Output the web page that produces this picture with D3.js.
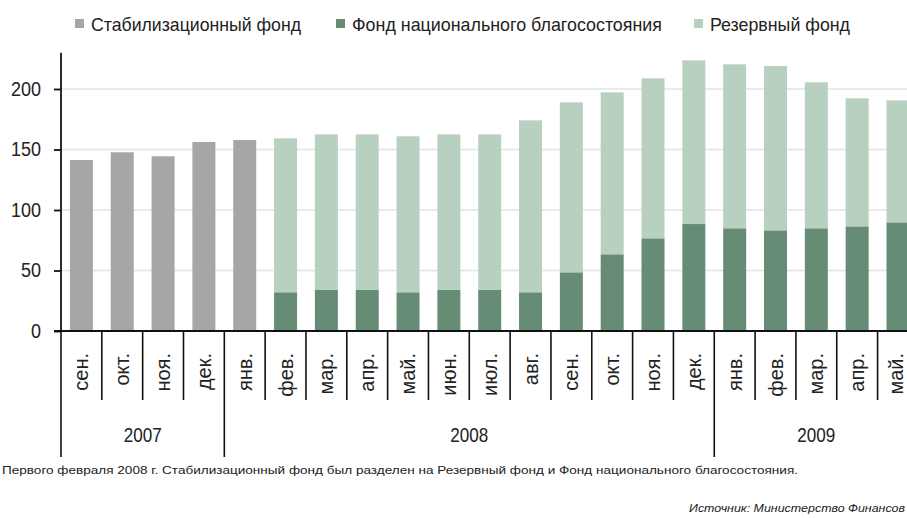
<!DOCTYPE html>
<html>
<head>
<meta charset="utf-8">
<script src="https://cdn.jsdelivr.net/npm/d3@7/dist/d3.min.js"></script>
<style>
  html, body { margin: 0; padding: 0; background: #fff; }
  svg { display: block; }
  text { font-family: "Liberation Sans", Arial, sans-serif; fill: #222; }
</style>
</head>
<body>
<svg id="chart" width="907" height="518"></svg>
<script>
// ---- data ----
const months = ["сен.","окт.","ноя.","дек.",
  "янв.","фев.","мар.","апр.","май.","июн.","июл.","авг.","сен.","окт.","ноя.","дек.",
  "янв.","фев.","мар.","апр.","май."];
const years = ["2007", "2008", "2009"];
const yearCounts = [4, 12, 5];
const stabFund = [141.3, 147.7, 144.4, 156.2, 157.9, 0, 0, 0, 0, 0, 0, 0, 0, 0, 0, 0, 0, 0, 0, 0, 0];
const nwFund   = [0, 0, 0, 0, 0, 32.0, 33.9, 33.9, 32.0, 33.9, 33.9, 32.0, 48.5, 63.4, 76.6, 88.4, 84.9, 83.2, 84.9, 86.5, 89.8];
const resFund  = [0, 0, 0, 0, 0, 127.2, 128.6, 128.6, 128.9, 128.6, 128.6, 142.1, 140.5, 133.8, 132.2, 135.3, 135.5, 135.8, 120.6, 105.8, 100.8];
const yTicks = [0, 50, 100, 150, 200];
const seriesNames = ["Стабилизационный фонд", "Фонд национального благосостояния", "Резервный фонд"];
const footnote = "Первого февраля 2008 г. Стабилизационный фонд был разделен на Резервный фонд и Фонд национального благосостояния.";
const source = "Источник: Министерство Финансов";

// ---- style ----
const colors = ["#a6a6a6", "#668c76", "#b8d0bf"];
const svg = d3.select("#chart");
const plotL = 61, plotR = 918.4, plotB = 331, plotT = 52.7;

const idx = months.map((d, i) => i);
const pad = 0.437;
const x = d3.scaleBand().domain(idx).range([plotL, plotR]).paddingInner(pad).paddingOuter(pad / 2);
const step = x.step();
const y = d3.scaleLinear().domain([0, 230]).range([plotB, plotT]);

// gridlines
svg.append("g").selectAll("line").data(yTicks.filter(d => d > 0)).join("line")
  .attr("x1", plotL).attr("x2", 907)
  .attr("y1", d => y(d)).attr("y2", d => y(d))
  .attr("stroke", "#e3e3e3").attr("stroke-width", 1.5);

// stacked bars
const rows = idx.map(i => ({ i, s: stabFund[i], n: nwFund[i], r: resFund[i] }));
const stack = d3.stack().keys(["s", "n", "r"])(rows);
svg.append("g").selectAll("g").data(stack).join("g")
  .attr("fill", (d, k) => colors[k])
  .selectAll("rect").data(d => d.filter(p => p[1] > p[0])).join("rect")
  .attr("x", d => x(d.data.i))
  .attr("width", x.bandwidth())
  .attr("y", d => y(d[1]))
  .attr("height", d => y(d[0]) - y(d[1]));

// y axis
const yAxis = d3.axisLeft(y).tickValues(yTicks).tickSize(7).tickPadding(13).tickSizeOuter(0);
const gy = svg.append("g").attr("transform", `translate(${plotL},0)`).call(yAxis);
gy.select(".domain").attr("stroke", "#111").attr("stroke-width", 1.8).attr("d", `M0,${plotT}V${plotB}`);
gy.selectAll(".tick line").attr("stroke", "#111").attr("stroke-width", 1.8);
gy.selectAll(".tick text").attr("font-size", 20).attr("fill", "#222")
  .style("font-family", '"Liberation Sans", Arial, sans-serif')
  .attr("textLength", d => String(d).length * 10).attr("lengthAdjust", "spacingAndGlyphs");

// x baseline
svg.append("line").attr("x1", 54).attr("x2", 907).attr("y1", plotB).attr("y2", plotB)
  .attr("stroke", "#111").attr("stroke-width", 1.8);

// month separators
const bounds = d3.range(months.length + 1).map(i => plotL + i * step);
const yearBounds = [0];
yearCounts.forEach((c, k) => yearBounds.push(yearBounds[k] + c));
svg.append("g").selectAll("line").data(bounds).join("line")
  .attr("x1", d => d).attr("x2", d => d)
  .attr("y1", plotB)
  .attr("y2", (d, i) => yearBounds.includes(i) ? 457 : 400)
  .attr("stroke", "#111").attr("stroke-width", 1.6);

// month labels
svg.append("g").selectAll("text").data(idx).join("text")
  .attr("transform", i => `translate(${Math.min(x(i) + x.bandwidth() / 2, 896)},353) rotate(-90)`)
  .attr("text-anchor", "end").attr("dy", "0.35em")
  .attr("font-size", 20)
  .text(i => months[i]);

// year labels
svg.append("g").selectAll("text").data(years).join("text")
  .attr("x", (d, k) => (bounds[yearBounds[k]] + bounds[yearBounds[k + 1]]) / 2 - 19)
  .attr("y", 442)
  .attr("font-size", 20)
  .attr("textLength", 38).attr("lengthAdjust", "spacingAndGlyphs")
  .text(d => d);

// legend
const legX = [75, 336, 694];
const legW = [210, 310, 140];
const leg = svg.append("g").selectAll("g").data(seriesNames).join("g")
  .attr("transform", (d, k) => `translate(${legX[k]},0)`);
leg.append("rect").attr("x", 0).attr("y", 19).attr("width", 9).attr("height", 9)
  .attr("fill", (d, k) => colors[k]);
leg.append("text").attr("x", 16).attr("y", 31).attr("font-size", 19)
  .attr("textLength", (d, k) => legW[k]).attr("lengthAdjust", "spacingAndGlyphs")
  .text(d => d);

// footnote & source
svg.append("text").attr("x", 2).attr("y", 474).attr("font-size", 11)
  .attr("textLength", 796).attr("lengthAdjust", "spacingAndGlyphs")
  .text(footnote);
svg.append("text").attr("x", 689).attr("y", 512).attr("font-size", 11)
  .attr("font-style", "italic")
  .attr("textLength", 216).attr("lengthAdjust", "spacingAndGlyphs")
  .text(source);
</script>
</body>
</html>
